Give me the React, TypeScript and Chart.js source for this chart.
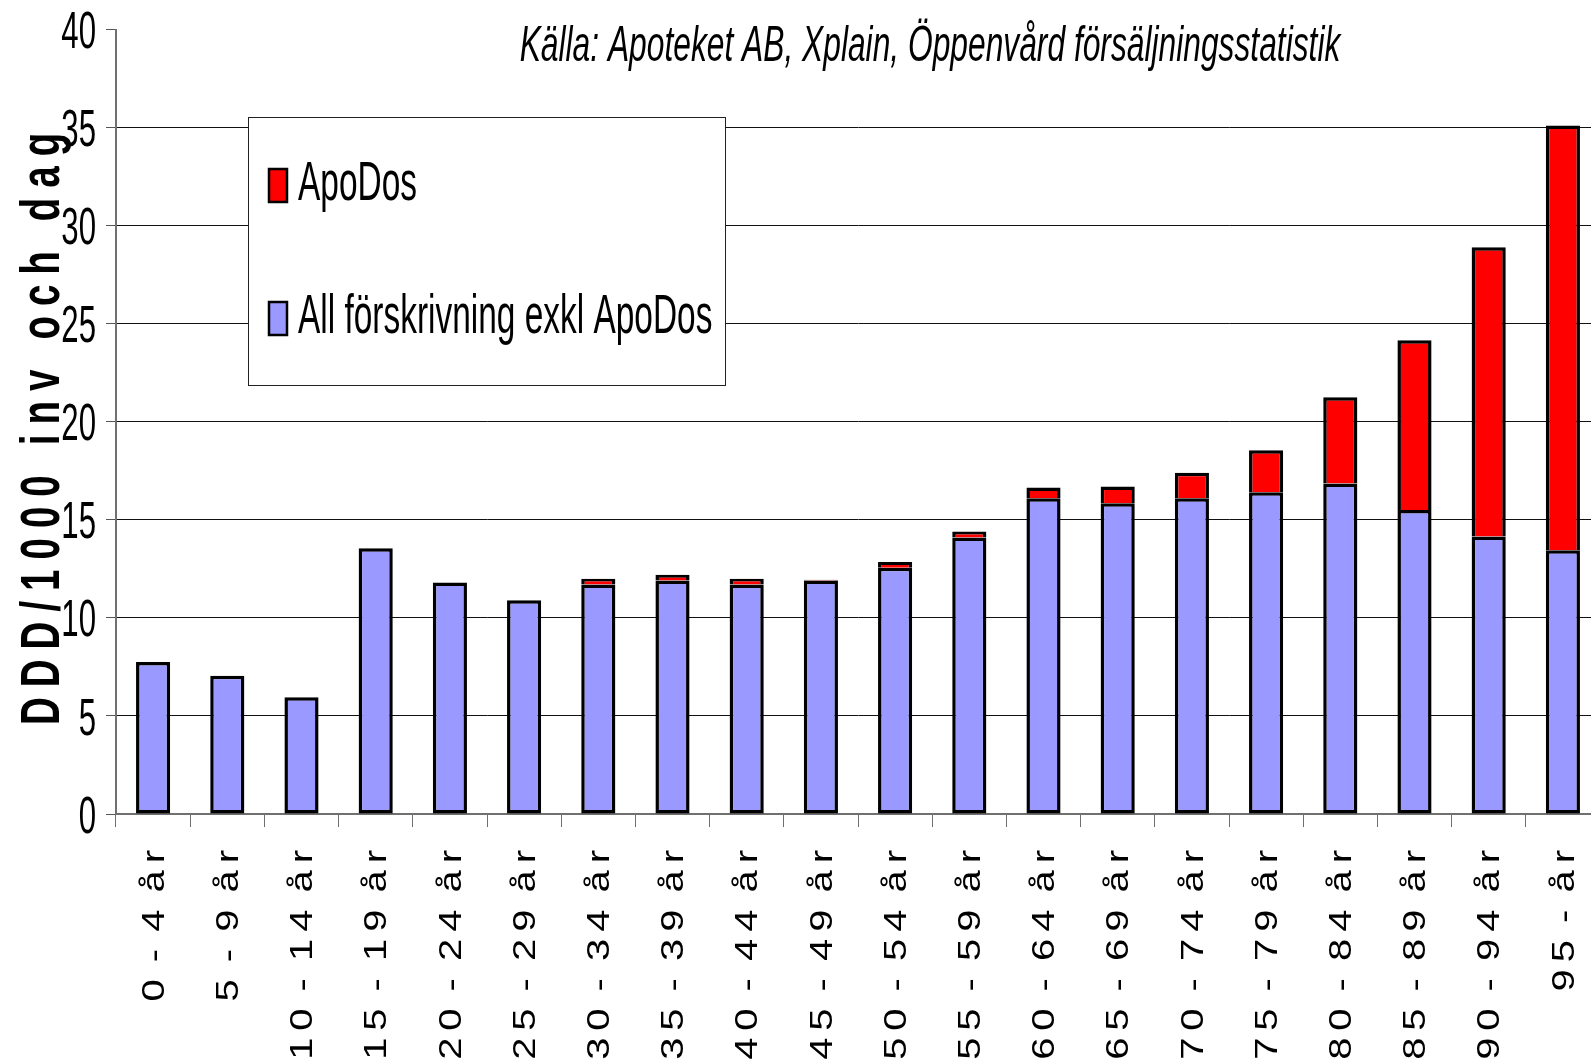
import React, { useEffect, useRef } from "react";
import { Chart, registerables } from "chart.js";

Chart.register(...registerables);

// ---------- data ----------
const categories = [
  "0 - 4 år", "5 - 9 år", "10 - 14 år", "15 - 19 år", "20 - 24 år",
  "25 - 29 år", "30 - 34 år", "35 - 39 år", "40 - 44 år", "45 - 49 år",
  "50 - 54 år", "55 - 59 år", "60 - 64 år", "65 - 69 år", "70 - 74 år",
  "75 - 79 år", "80 - 84 år", "85 - 89 år", "90 - 94 år", "95 - år",
];
const allExclApoDos = [
  7.75, 7.05, 5.95, 13.55, 11.8, 10.9, 11.7, 11.9, 11.7, 11.9,
  12.55, 14.1, 16.1, 15.85, 16.1, 16.4, 16.85, 15.5, 14.15, 13.45,
];
const apoDos = [
  0, 0, 0, 0, 0, 0, 0.3, 0.3, 0.3, 0.05,
  0.3, 0.3, 0.55, 0.85, 1.3, 2.15, 4.4, 8.65, 14.75, 21.65,
];
const seriesLabels = ["All förskrivning exkl ApoDos", "ApoDos"];
const seriesColors = ["#9999FF", "#FF0000"];
const yMin = 0;
const yMax = 40;
const yStep = 5;
const subtitle = "Källa: Apoteket AB, Xplain, Öppenvård försäljningsstatistik";
const yTitle = "DDD/1000 inv och dag";

const FONT = '"Liberation Sans", Arial, sans-serif';

function spacedLength(ctx: CanvasRenderingContext2D, text: string, spacing: number, spaceAdv: number, sx: number) {
  let len = 0;
  const chars = Array.from(text);
  chars.forEach((ch, i) => {
    len += ch === " " ? spaceAdv : ctx.measureText(ch).width * sx;
    if (i < chars.length - 1) len += spacing;
  });
  return len;
}

function drawSpaced(
  ctx: CanvasRenderingContext2D,
  text: string,
  startX: number,
  spacing: number,
  spaceAdv: number,
  sx: number,
  sy: number = 1
) {
  let x = startX;
  for (const ch of Array.from(text)) {
    if (ch === " ") {
      x += spaceAdv + spacing;
      continue;
    }
    const w = ctx.measureText(ch).width;
    ctx.save();
    ctx.translate(x, 0);
    ctx.scale(sx, sy);
    ctx.fillText(ch, 0, 0);
    ctx.restore();
    x += w * sx + spacing;
  }
}

const textPlugin = {
  id: "customText",
  afterDraw(chart: any) {
    const ctx: CanvasRenderingContext2D = chart.ctx;
    const xs = chart.scales.x;
    const ys = chart.scales.y;
    ctx.save();
    ctx.fillStyle = "#000";
    ctx.textAlign = "left";

    // y tick labels
    const yFs = 52;
    ctx.font = `${yFs}px ${FONT}`;
    ctx.textBaseline = "alphabetic";
    for (const t of ys.ticks) {
      const py = ys.getPixelForValue(t.value);
      ctx.save();
      ctx.translate(96, py + 0.358 * yFs);
      ctx.scale(0.6, 1);
      ctx.textAlign = "right";
      ctx.fillText(String(t.value), 0, 0);
      ctx.restore();
    }

    // y axis title
    ctx.font = `bold 55px ${FONT}`;
    ctx.textBaseline = "alphabetic";
    ctx.save();
    ctx.translate(59, 725);
    ctx.rotate(-Math.PI / 2);
    drawSpaced(ctx, yTitle, 0, 10, 10, 0.7);
    ctx.restore();

    // x tick labels (rotated, letter spaced)
    ctx.font = `40px ${FONT}`;
    ctx.textBaseline = "middle";
    const labels: string[] = chart.data.labels;
    labels.forEach((lab, i) => {
      const px = xs.getPixelForValue(i);
      const len = spacedLength(ctx, lab, 7, 3, 1);
      ctx.save();
      ctx.translate(px + 2, 850);
      ctx.rotate(-Math.PI / 2);
      drawSpaced(ctx, lab, -len, 7, 3, 1, 0.78);
      ctx.restore();
    });

    // subtitle
    ctx.font = `italic 50px ${FONT}`;
    ctx.textBaseline = "alphabetic";
    ctx.save();
    ctx.translate(930, 61);
    ctx.scale(0.635, 1);
    ctx.textAlign = "center";
    ctx.fillText(subtitle, 0, 0);
    ctx.restore();

    // legend
    ctx.fillStyle = "#fff";
    ctx.fillRect(248.5, 117.5, 477, 268);
    ctx.strokeStyle = "#222";
    ctx.lineWidth = 1;
    ctx.strokeRect(248.5, 117.5, 477, 268);
    const ds = chart.data.datasets.slice().reverse();
    const rowBase = [200, 333];
    ds.forEach((d: any, i: number) => {
      const base = rowBase[i];
      ctx.fillStyle = d.backgroundColor;
      ctx.fillRect(269, base - 31, 18, 33);
      ctx.strokeStyle = "#000";
      ctx.lineWidth = 2.5;
      ctx.strokeRect(269, base - 31, 18, 33);
      ctx.fillStyle = "#000";
      ctx.font = `56px ${FONT}`;
      ctx.save();
      ctx.translate(298, base);
      ctx.scale(0.597, 1);
      ctx.textAlign = "left";
      ctx.fillText(d.label, 0, 0);
      ctx.restore();
    });

    ctx.restore();
  },
};

export default function App() {
  const canvasRef = useRef<HTMLCanvasElement | null>(null);

  useEffect(() => {
    const canvas = canvasRef.current;
    if (!canvas) return;
    const chart = new Chart(canvas, {
      type: "bar",
      data: {
        labels: categories,
        datasets: [
          {
            label: seriesLabels[0],
            data: allExclApoDos,
            backgroundColor: seriesColors[0],
            borderColor: "#000",
            borderWidth: 3.5,
            borderSkipped: false,
            stack: "s",
          },
          {
            label: seriesLabels[1],
            data: apoDos,
            backgroundColor: seriesColors[1],
            borderColor: "#000",
            borderWidth: 3.5,
            borderSkipped: "start",
            stack: "s",
          },
        ],
      },
      options: {
        responsive: false,
        animation: false,
        events: [],
        layout: { padding: { left: 0, top: 29.5, right: 40, bottom: 0 } },
        datasets: { bar: { categoryPercentage: 1, barPercentage: 0.46 } },
        plugins: {
          legend: { display: false },
          title: { display: false },
          tooltip: { enabled: false },
        },
        scales: {
          x: {
            stacked: true,
            offset: true,
            grid: {
              offset: true,
              drawOnChartArea: false,
              drawTicks: true,
              tickLength: 13,
              color: "#707070",
              lineWidth: 1,
            },
            border: { color: "#707070", width: 2 },
            ticks: { display: false },
            afterFit: (s: any) => {
              s.height = 1062 - 814;
            },
          },
          y: {
            stacked: true,
            min: yMin,
            max: yMax,
            ticks: { stepSize: yStep, display: false },
            grid: {
              color: (c: any) => (c.tick && c.tick.value === yMax ? "rgba(0,0,0,0)" : "#111"),
              tickColor: "#555",
              lineWidth: 1,
              tickLength: 10,
              drawTicks: true,
            },
            border: { color: "#707070", width: 2 },
            afterFit: (s: any) => {
              s.width = 116;
            },
          },
        },
      } as any,
      plugins: [textPlugin],
    });
    return () => chart.destroy();
  }, []);

  return (
    <div
      style={{
        position: "fixed",
        left: 0,
        top: 0,
        width: 1591,
        height: 1062,
        overflow: "hidden",
        background: "#fff",
      }}
    >
      <canvas ref={canvasRef} width={1640} height={1062} style={{ display: "block" }} />
    </div>
  );
}
